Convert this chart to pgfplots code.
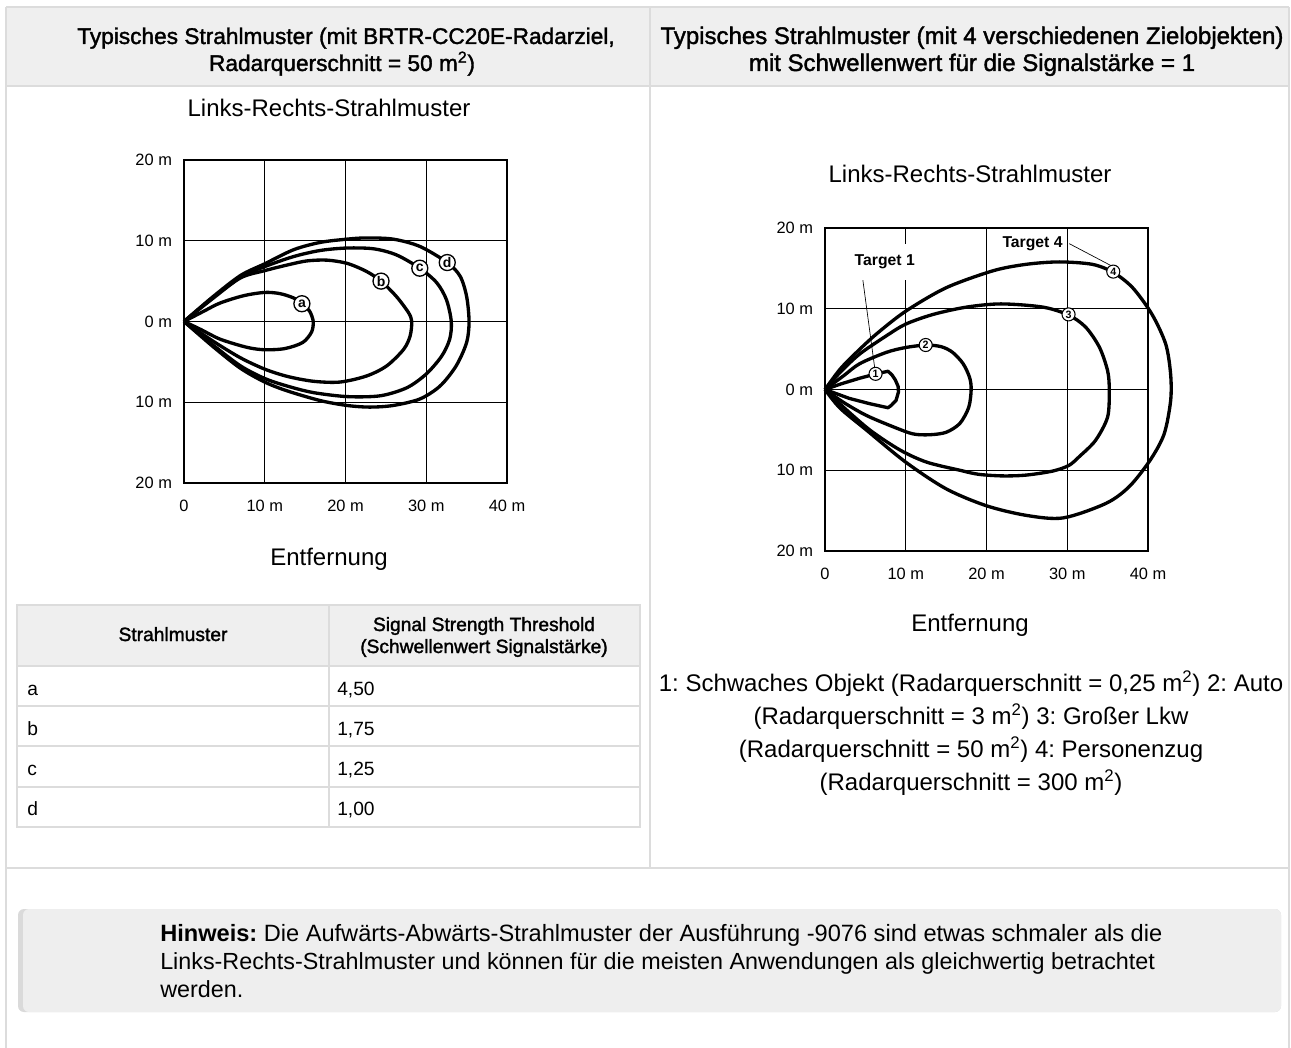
\documentclass[border=0pt]{standalone}
\usepackage{pgfplots}
\pgfplotsset{compat=1.18}
\usepackage{fontspec}
\setmainfont{Liberation Sans}
\newfontfamily\semib[FakeBold=1.6]{Liberation Sans}
\definecolor{hdrbg}{HTML}{EFEFEF}
\definecolor{bord}{HTML}{DCDCDC}
\definecolor{notebg}{HTML}{EEEEEE}
\definecolor{stripe}{HTML}{DADADA}
\frenchspacing
\newcommand{\body}{\fontsize{18pt}{22pt}\selectfont}
\newcommand{\hdr}{\semib\fontsize{18pt}{22pt}\selectfont}
\newcommand{\hdrl}{\semib\fontsize{17pt}{21pt}\selectfont}
\newcommand{\tbl}{\fontsize{14.4pt}{17pt}\selectfont}
\newcommand{\tblh}{\semib\fontsize{14.4pt}{17pt}\selectfont}
\tikzset{
  lc/.style={circle,draw=black,fill=white,line width=1pt,inner sep=0pt,minimum size=12pt,
    font=\bfseries\fontsize{10.5pt}{10.5pt}\selectfont},
  nc/.style={circle,draw=black,fill=white,line width=0.8pt,inner sep=0pt,minimum size=9.8pt,
    font=\bfseries\fontsize{8pt}{8pt}\selectfont},
  curve/.style={black, line width=2.5pt, smooth, tension=0.5, mark=none, line join=round},
}
\pgfplotsset{
  beam/.style={
    scale only axis, width=242.25pt, height=242.25pt,
    xmin=0,xmax=40,ymin=-20,ymax=20,
    xtick={0,10,20,30,40}, ytick={-20,-10,0,10,20},
    xticklabels={0,10 m,20 m,30 m,40 m},
    yticklabels={20 m,10 m,0 m,10 m,20 m},
    grid=major, major grid style={black,line width=0.8pt},
    axis line style={black,line width=1pt},
    major tick length=0pt,
    tick label style={font=\fontsize{12.3pt}{14pt}\selectfont, text=black},
    xticklabel style={yshift=-9.5pt},
    yticklabel style={xshift=-5.5pt},
    clip=false,
  },
}
\begin{document}
\begin{tikzpicture}
\begin{scope}[x=0.75pt,y=-0.75pt]
\useasboundingbox (0,0) rectangle (1291,1048);
% frame
\fill[hdrbg] (6,7) rectangle (1289,86);
\draw[bord,line width=1.5pt] (6,7) -- (1289,7);
\draw[bord,line width=1.5pt] (6,86) -- (1289,86);
\draw[bord,line width=1.5pt] (6,868) -- (1289,868);
\draw[bord,line width=1.5pt] (6,7) -- (6,1048);
\draw[bord,line width=1.5pt] (650,7) -- (650,868);
\draw[bord,line width=1.5pt] (1289,7) -- (1289,1048);
% headers
\node[anchor=base] at (346,44) {\hdrl Typisches Strahlmuster (mit BRTR-CC20E-Radarziel,};
\node[anchor=base] at (342,71) {\hdrl Radarquerschnitt = 50 m\textsuperscript{2})};
\node[anchor=base] at (972,44) {\hdr Typisches Strahlmuster (mit 4 verschiedenen Zielobjekten)};
\node[anchor=base] at (972,71) {\hdr mit Schwellenwert für die Signalstärke = 1};
% titles
\node[anchor=base] at (329,117) {\body Links-Rechts-Strahlmuster};
\node[anchor=base] at (970,183) {\body Links-Rechts-Strahlmuster};
\node[anchor=base] at (329,565) {\body Entfernung};
\node[anchor=base] at (970,631) {\body Entfernung};
% legend text right
\node[anchor=base] at (971,691) {\body 1: Schwaches Objekt (Radarquerschnitt = 0,25 m\textsuperscript{2}) 2: Auto};
\node[anchor=base] at (971,724) {\body (Radarquerschnitt = 3 m\textsuperscript{2}) 3: Großer Lkw};
\node[anchor=base] at (971,757) {\body (Radarquerschnitt = 50 m\textsuperscript{2}) 4: Personenzug};
\node[anchor=base] at (971,790) {\body (Radarquerschnitt = 300 m\textsuperscript{2})};
% table
\fill[hdrbg] (17,605) rectangle (640,666);
\draw[bord,line width=1.5pt] (17,605) rectangle (640,827);
\foreach \yy in {666,706,746,787} {\draw[bord,line width=1.5pt] (17,\yy) -- (640,\yy);}
\draw[bord,line width=1.5pt] (329,605) -- (329,827);
\node[anchor=base] at (173,641) {\tblh Strahlmuster};
\node[anchor=base] at (484,631) {\tblh Signal Strength Threshold};
\node[anchor=base] at (484,653) {\tblh (Schwellenwert Signalstärke)};
\node[anchor=base west,inner sep=0pt] at (27,695) {\tbl a};
\node[anchor=base west,inner sep=0pt] at (27,735) {\tbl b};
\node[anchor=base west,inner sep=0pt] at (27,775) {\tbl c};
\node[anchor=base west,inner sep=0pt] at (27,815) {\tbl d};
\node[anchor=base west,inner sep=0pt] at (337,695) {\tbl 4,50};
\node[anchor=base west,inner sep=0pt] at (337,735) {\tbl 1,75};
\node[anchor=base west,inner sep=0pt] at (337,775) {\tbl 1,25};
\node[anchor=base west,inner sep=0pt] at (337,815) {\tbl 1,00};
% note
\fill[stripe,rounded corners=4.5pt] (18,909) rectangle (1281,1012);
\fill[notebg,rounded corners=4.5pt] (23,909) rectangle (1281,1012);
\node[anchor=base west,inner sep=0pt] at (160,941) {\fontsize{17.7pt}{22pt}\selectfont\textbf{Hinweis:} Die Aufwärts-Abwärts-Strahlmuster der Ausführung -9076 sind etwas schmaler als die};
\node[anchor=base west,inner sep=0pt] at (160,969) {\fontsize{17.5pt}{22pt}\selectfont Links-Rechts-Strahlmuster und können für die meisten Anwendungen als gleichwertig betrachtet};
\node[anchor=base west,inner sep=0pt] at (160,997) {\fontsize{17.5pt}{22pt}\selectfont werden.};
\end{scope}

% left plot
\begin{axis}[beam, at={(138pt,-362.25pt)}, anchor=south west]
\addplot[curve] coordinates {(0,0) (2.5,1.3) (4.5,2.3) (7.4,3.2) (10,3.6) (11.9,3.45) (13.6,2.9) (14.8,2.1) (15.6,1.2) (16.0,0) (15.8,-1.3) (14.7,-2.6) (12.5,-3.35) (10,-3.5) (7.8,-3.2) (4.5,-2.2) (2.1,-1.0) (0,0)};
\addplot[curve] coordinates {(0,0) (3.5,2.8) (7,5.4) (10,6.3) (12.8,7.0) (15.2,7.5) (17.7,7.6) (20.2,7.2) (22.6,6.2) (24.4,5.0) (26.3,3.1) (27.8,1.1) (28.2,0) (28,-1.8) (27.2,-3.45) (25.1,-5.5) (22.6,-6.75) (19.3,-7.5) (16,-7.4) (12.8,-6.8) (10,-5.9) (7,-4.5) (3.7,-2.5) (0,0)};
\addplot[curve] coordinates {(0,0) (3.5,2.9) (7,5.5) (10,6.8) (13.6,8.05) (16.9,8.8) (20.2,9.1) (23.5,9.0) (26.3,8.25) (29.2,6.6) (31.3,4.8) (32.5,2.7) (33.1,0) (32.9,-2.2) (31.9,-4.3) (30,-6.5) (27.6,-8.2) (24.3,-9.2) (20.2,-9.3) (16,-8.8) (12.8,-8.0) (10,-7.06) (7,-5.5) (3.7,-3.0) (0,0)};
\addplot[curve] coordinates {(0,0) (3.5,3.0) (7,5.7) (10,7.15) (13.6,8.9) (16.9,9.8) (20.2,10.2) (22.6,10.35) (25.9,10.2) (29.2,9.3) (32.6,7.3) (34.2,5.6) (35,3.1) (35.3,0) (35,-2.6) (33.7,-5.5) (31.7,-8.0) (29.2,-9.6) (25.9,-10.4) (23,-10.6) (20.2,-10.4) (16.9,-9.8) (12.8,-8.6) (10,-7.5) (7,-5.8) (3.7,-3.2) (0,0)};
\node[lc] at (axis cs:14.6,2.2) {a};
\node[lc] at (axis cs:24.4,5.0) {b};
\node[lc] at (axis cs:29.2,6.6) {c};
\node[lc] at (axis cs:32.6,7.3) {d};
\end{axis}

% right plot
\begin{axis}[beam, at={(618.75pt,-413.25pt)}, anchor=south west]
\addplot[curve, sharp plot] coordinates {(0,0) (2,0.7) (4.3,1.4) (6.2,1.9) (7.8,2.26) (8.3,1.8) (8.7,1.2) (9.05,0.4) (9.1,-0.3) (8.8,-1.35) (8.2,-1.97) (7.8,-2.26) (5.5,-1.75) (3,-1.1) (0,0)};
\addplot[curve] coordinates {(0,0) (2.3,1.7) (4.3,3.2) (7.6,4.6) (10,5.2) (12.5,5.5) (14.4,5.3) (15.8,4.6) (17.1,3.2) (17.9,1.5) (18.1,0) (17.8,-2.2) (16.7,-4.2) (15,-5.3) (13,-5.6) (10.9,-5.5) (8.4,-4.6) (5.1,-3.2) (2.3,-1.6) (0,0)};
\addplot[curve] coordinates {(0,0) (1.85,2.1) (4.3,4.4) (7.6,6.65) (10,8.1) (13.4,9.3) (17.5,10.2) (21.8,10.6) (27,10.2) (30.2,9.2) (32.3,7.7) (34,5.2) (35,2.3) (35.2,0) (35,-3.4) (33.5,-6.3) (31.5,-8.3) (30.2,-9.4) (28.2,-10.1) (24.9,-10.6) (22,-10.7) (19,-10.5) (16.7,-10) (12.6,-9.0) (9.3,-7.5) (5.6,-5.05) (2.3,-2.2) (0,0)};
\addplot[curve] coordinates {(0,0) (1.85,2.5) (3.9,4.6) (6.4,6.9) (10,9.7) (15,12.6) (20.8,14.7) (24.9,15.5) (29,15.8) (33.1,15.5) (35.7,14.5) (38.1,12.6) (40.5,9.3) (42.2,5.6) (42.8,1.9) (42.8,-1.4) (42,-5.5) (40.3,-8.7) (37.7,-12.0) (34.8,-14.1) (29.5,-15.9) (25,-15.6) (20,-14.4) (15,-12.3) (10,-9.0) (5.1,-5.0) (1.85,-2.3) (0,0)};
\draw[black,line width=0.5pt] (axis cs:4.6,14.2) -- (axis cs:6.17,2.56);
\draw[black,line width=0.5pt] (axis cs:30.25,18.06) -- (axis cs:35.5,15.3);
\node[fill=white,inner xsep=3pt,inner ysep=8pt,font=\bfseries\fontsize{11.8pt}{13pt}\selectfont] at (axis cs:7.4,15.8) {Target 1};
\node[fill=white,inner xsep=2pt,inner ysep=2pt,font=\bfseries\fontsize{11.8pt}{13pt}\selectfont] at (axis cs:25.7,18.0) {Target 4};
\node[nc] at (axis cs:6.26,1.94) {1};
\node[nc] at (axis cs:12.47,5.51) {2};
\node[nc] at (axis cs:30.16,9.3) {3};
\node[nc] at (axis cs:35.7,14.6) {4};
\end{axis}
\end{tikzpicture}
\end{document}
